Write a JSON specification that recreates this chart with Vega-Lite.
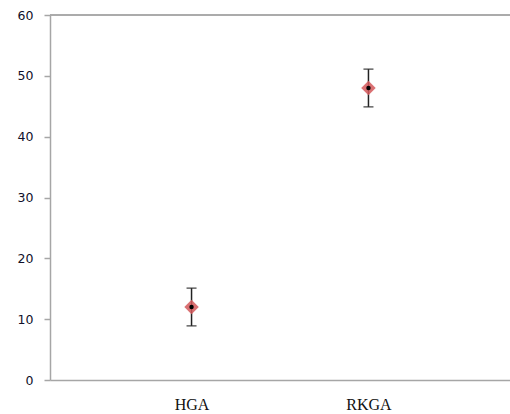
{
  "$schema": "https://vega.github.io/schema/vega-lite/v6.json",
  "autosize": "none",
  "padding": {"left": 50, "top": 15, "right": 0, "bottom": 34},
  "width": 460,
  "height": 365,
  "background": "white",
  "config": {"view": {"stroke": null}},
  "data": {"values": [
    {"method": "HGA", "mean": 12, "lo": 8.9, "hi": 15.1},
    {"method": "RKGA", "mean": 48, "lo": 44.9, "hi": 51.1}
  ]},
  "encoding": {
    "x": {"field": "method", "type": "nominal", "sort": null,
      "scale": {"type": "point", "padding": 0.8},
      "axis": {"title": null, "ticks": false, "labelAngle": 0, "domainColor": "#a6a6a6", "domainWidth": 1.5,
        "labelFont": "Liberation Serif", "labelFontSize": 16, "labelColor": "#111", "labelPadding": 16}}
  },
  "layer": [
    {"mark": {"type": "rule", "color": "#a6a6a6", "strokeWidth": 1.5},
     "encoding": {"x": null, "y": {"datum": 60, "type": "quantitative"}}},
    {"mark": {"type": "rule", "color": "#222", "strokeWidth": 1.5},
     "encoding": {
       "y": {"field": "lo", "type": "quantitative",
         "scale": {"domain": [0, 60], "nice": false},
         "axis": {"title": null, "values": [0, 10, 20, 30, 40, 50, 60], "grid": false,
           "domainColor": "#a6a6a6", "domainWidth": 1.5, "tickColor": "#a6a6a6", "tickWidth": 1.5, "tickSize": 6,
           "labelFont": "DejaVu Sans", "labelFontSize": 12.5, "labelColor": "#10102a", "labelPadding": 11}},
       "y2": {"field": "hi"}}},
    {"mark": {"type": "tick", "color": "#222", "thickness": 1.5, "size": 10},
     "encoding": {"y": {"field": "lo", "type": "quantitative"}}},
    {"mark": {"type": "tick", "color": "#222", "thickness": 1.5, "size": 10},
     "encoding": {"y": {"field": "hi", "type": "quantitative"}}},
    {"mark": {"type": "point", "shape": "diamond", "filled": true, "color": "#d4585a", "opacity": 0.85, "size": 210},
     "encoding": {"y": {"field": "mean", "type": "quantitative"}}},
    {"mark": {"type": "point", "shape": "circle", "filled": true, "color": "#000", "opacity": 1, "size": 20},
     "encoding": {"y": {"field": "mean", "type": "quantitative"}}}
  ]
}
